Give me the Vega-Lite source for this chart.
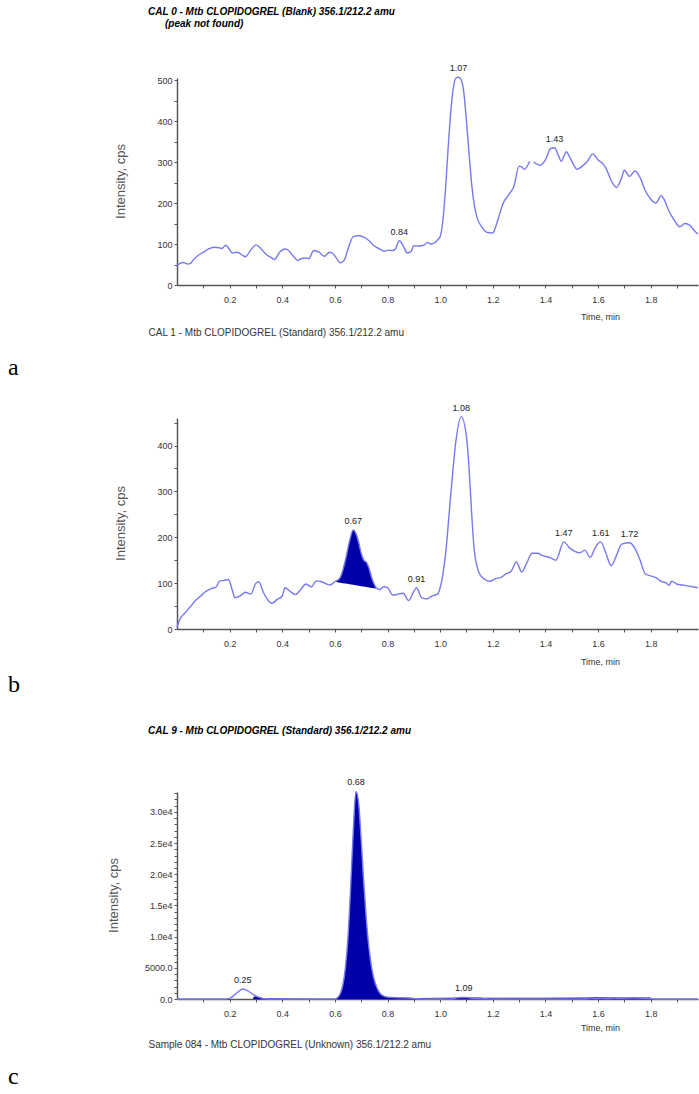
{
  "$schema": "https://vega.github.io/schema/vega-lite/v6.json",
  "background": "white",
  "padding": {"left": 8, "top": 7, "right": 0, "bottom": 0},
  "spacing": 23,
  "config": {
    "view": {"stroke": null},
    "font": "Liberation Sans",
    "axis": {"grid": false, "domainColor": "#555555", "domainWidth": 1.5, "tickColor": "#555555", "tickSize": 3, "labelFont": "Liberation Sans", "labelFontSize": 9, "labelColor": "#333333", "titleFont": "Liberation Sans", "titleFontSize": 9, "titleFontWeight": "normal", "titleColor": "#333333"},
    "title": {"font": "Liberation Sans", "fontSize": 10, "fontStyle": "italic", "fontWeight": "bold", "color": "#000000", "anchor": "start", "frame": "group", "subtitleFont": "Liberation Sans", "subtitleFontSize": 10, "subtitleFontStyle": "italic", "subtitleFontWeight": "bold", "subtitleColor": "#000000", "subtitlePadding": 2}
  },
  "datasets": {
    "a": [
      {"s":1,"t":0.00,"v":48},{"s":1,"t":0.01,"v":52},{"s":1,"t":0.02,"v":55},{"s":1,"t":0.03,"v":54},{"s":1,"t":0.04,"v":51},{"s":1,"t":0.05,"v":52},{"s":1,"t":0.06,"v":60},{"s":1,"t":0.08,"v":72},{"s":1,"t":0.10,"v":80},{"s":1,"t":0.12,"v":88},{"s":1,"t":0.14,"v":92},{"s":1,"t":0.16,"v":91},{"s":1,"t":0.17,"v":89},{"s":1,"t":0.185,"v":97},{"s":1,"t":0.20,"v":86},{"s":1,"t":0.21,"v":78},{"s":1,"t":0.23,"v":80},{"s":1,"t":0.25,"v":72},{"s":1,"t":0.26,"v":69},{"s":1,"t":0.28,"v":85},{"s":1,"t":0.30,"v":98},{"s":1,"t":0.32,"v":88},{"s":1,"t":0.34,"v":74},{"s":1,"t":0.36,"v":66},{"s":1,"t":0.37,"v":62},{"s":1,"t":0.39,"v":80},{"s":1,"t":0.41,"v":88},{"s":1,"t":0.42,"v":86},{"s":1,"t":0.44,"v":72},{"s":1,"t":0.46,"v":60},{"s":1,"t":0.47,"v":64},{"s":1,"t":0.49,"v":66},{"s":1,"t":0.50,"v":64},{"s":1,"t":0.52,"v":84},{"s":1,"t":0.54,"v":80},{"s":1,"t":0.56,"v":70},{"s":1,"t":0.58,"v":80},{"s":1,"t":0.59,"v":78},{"s":1,"t":0.61,"v":62},{"s":1,"t":0.62,"v":54},{"s":1,"t":0.635,"v":60},{"s":1,"t":0.65,"v":88},{"s":1,"t":0.67,"v":118},{"s":1,"t":0.69,"v":120},{"s":1,"t":0.71,"v":117},{"s":1,"t":0.73,"v":108},{"s":1,"t":0.75,"v":95},{"s":1,"t":0.77,"v":88},{"s":1,"t":0.79,"v":82},{"s":1,"t":0.80,"v":85},{"s":1,"t":0.82,"v":84},{"s":1,"t":0.83,"v":88},{"s":1,"t":0.845,"v":108},{"s":1,"t":0.86,"v":95},{"s":1,"t":0.875,"v":78},{"s":1,"t":0.89,"v":82},{"s":1,"t":0.90,"v":96},{"s":1,"t":0.92,"v":95},{"s":1,"t":0.94,"v":98},{"s":1,"t":0.95,"v":104},{"s":1,"t":0.965,"v":100},{"s":1,"t":0.98,"v":103},{"s":1,"t":0.99,"v":110},{"s":1,"t":1.00,"v":118},{"s":1,"t":1.01,"v":155},{"s":1,"t":1.02,"v":230},{"s":1,"t":1.03,"v":330},{"s":1,"t":1.04,"v":420},{"s":1,"t":1.05,"v":480},{"s":1,"t":1.06,"v":505},{"s":1,"t":1.07,"v":507},{"s":1,"t":1.08,"v":500},{"s":1,"t":1.09,"v":470},{"s":1,"t":1.10,"v":400},{"s":1,"t":1.11,"v":320},{"s":1,"t":1.12,"v":245},{"s":1,"t":1.13,"v":195},{"s":1,"t":1.14,"v":165},{"s":1,"t":1.16,"v":140},{"s":1,"t":1.18,"v":128},{"s":1,"t":1.20,"v":127},{"s":1,"t":1.21,"v":140},{"s":1,"t":1.22,"v":160},{"s":1,"t":1.24,"v":200},{"s":1,"t":1.26,"v":220},{"s":1,"t":1.28,"v":240},{"s":1,"t":1.30,"v":290},{"s":1,"t":1.31,"v":288},{"s":1,"t":1.32,"v":282},{"s":1,"t":1.34,"v":302},
      {"s":2,"t":1.355,"v":300},{"s":2,"t":1.38,"v":292},{"s":2,"t":1.40,"v":305},{"s":2,"t":1.42,"v":333},{"s":2,"t":1.435,"v":335},{"s":2,"t":1.45,"v":315},{"s":2,"t":1.46,"v":302},{"s":2,"t":1.48,"v":325},{"s":2,"t":1.49,"v":315},{"s":2,"t":1.51,"v":290},{"s":2,"t":1.52,"v":282},{"s":2,"t":1.54,"v":290},{"s":2,"t":1.56,"v":302},{"s":2,"t":1.58,"v":320},{"s":2,"t":1.60,"v":305},{"s":2,"t":1.62,"v":295},{"s":2,"t":1.63,"v":285},{"s":2,"t":1.65,"v":255},{"s":2,"t":1.67,"v":238},{"s":2,"t":1.69,"v":262},{"s":2,"t":1.70,"v":280},{"s":2,"t":1.72,"v":265},{"s":2,"t":1.74,"v":278},{"s":2,"t":1.76,"v":262},{"s":2,"t":1.78,"v":230},{"s":2,"t":1.80,"v":210},{"s":2,"t":1.82,"v":200},{"s":2,"t":1.84,"v":218},{"s":2,"t":1.85,"v":210},{"s":2,"t":1.87,"v":180},{"s":2,"t":1.89,"v":158},{"s":2,"t":1.91,"v":142},{"s":2,"t":1.93,"v":150},{"s":2,"t":1.95,"v":145},{"s":2,"t":1.97,"v":130},{"s":2,"t":1.98,"v":124}
    ],
    "aPeaks": [
      {"t":0.845,"v":108,"label":"0.84"},{"t":1.07,"v":507,"label":"1.07"},{"t":1.435,"v":335,"label":"1.43"}
    ],
    "b": [
      {"t":0.00,"v":4},{"t":0.01,"v":20},{"t":0.03,"v":35},{"t":0.05,"v":48},{"t":0.07,"v":62},{"t":0.09,"v":72},{"t":0.11,"v":82},{"t":0.13,"v":88},{"t":0.15,"v":92},{"t":0.16,"v":104},{"t":0.18,"v":106},{"t":0.195,"v":108},{"t":0.21,"v":85},{"t":0.22,"v":68},{"t":0.24,"v":72},{"t":0.26,"v":80},{"t":0.28,"v":76},{"t":0.30,"v":100},{"t":0.31,"v":103},{"t":0.33,"v":78},{"t":0.35,"v":60},{"t":0.36,"v":56},{"t":0.38,"v":64},{"t":0.40,"v":72},{"t":0.41,"v":90},{"t":0.43,"v":82},{"t":0.45,"v":75},{"t":0.47,"v":86},{"t":0.49,"v":98},{"t":0.51,"v":92},{"t":0.53,"v":105},{"t":0.55,"v":103},{"t":0.57,"v":98},{"t":0.58,"v":96},{"t":0.60,"v":103},{"t":0.62,"v":112},{"t":0.64,"v":150},{"t":0.655,"v":190},{"t":0.67,"v":216},{"t":0.68,"v":208},{"t":0.69,"v":190},{"t":0.70,"v":165},{"t":0.71,"v":150},{"t":0.72,"v":145},{"t":0.73,"v":132},{"t":0.74,"v":112},{"t":0.755,"v":92},{"t":0.77,"v":86},{"t":0.785,"v":92},{"t":0.80,"v":90},{"t":0.82,"v":74},{"t":0.84,"v":76},{"t":0.86,"v":78},{"t":0.88,"v":62},{"t":0.90,"v":82},{"t":0.91,"v":90},{"t":0.93,"v":68},{"t":0.95,"v":66},{"t":0.97,"v":72},{"t":0.99,"v":76},{"t":1.00,"v":90},{"t":1.02,"v":160},{"t":1.04,"v":290},{"t":1.06,"v":410},{"t":1.08,"v":463},{"t":1.10,"v":420},{"t":1.11,"v":350},{"t":1.12,"v":250},{"t":1.13,"v":170},{"t":1.15,"v":120},{"t":1.17,"v":108},{"t":1.19,"v":104},{"t":1.21,"v":110},{"t":1.23,"v":112},{"t":1.25,"v":120},{"t":1.27,"v":126},{"t":1.29,"v":146},{"t":1.31,"v":124},{"t":1.33,"v":145},{"t":1.35,"v":165},{"t":1.37,"v":165},{"t":1.39,"v":160},{"t":1.42,"v":155},{"t":1.44,"v":150},{"t":1.47,"v":190},{"t":1.49,"v":178},{"t":1.51,"v":170},{"t":1.53,"v":166},{"t":1.55,"v":172},{"t":1.57,"v":156},{"t":1.59,"v":178},{"t":1.61,"v":190},{"t":1.63,"v":165},{"t":1.65,"v":138},{"t":1.67,"v":160},{"t":1.69,"v":185},{"t":1.72,"v":188},{"t":1.74,"v":176},{"t":1.76,"v":150},{"t":1.78,"v":120},{"t":1.80,"v":116},{"t":1.82,"v":112},{"t":1.84,"v":104},{"t":1.86,"v":100},{"t":1.87,"v":95},{"t":1.88,"v":104},{"t":1.90,"v":98},{"t":1.92,"v":96},{"t":1.94,"v":94},{"t":1.96,"v":92},{"t":1.98,"v":90}
    ],
    "bFill": [
      {"t":0.60,"v":103,"base":103},{"t":0.62,"v":112,"base":101.1},{"t":0.64,"v":150,"base":99.1},{"t":0.655,"v":190,"base":97.7},{"t":0.67,"v":216,"base":96.2},{"t":0.68,"v":208,"base":95.2},{"t":0.69,"v":190,"base":94.3},{"t":0.70,"v":165,"base":93.3},{"t":0.71,"v":150,"base":92.4},{"t":0.72,"v":145,"base":91.4},{"t":0.73,"v":132,"base":90.4},{"t":0.74,"v":112,"base":89.5},{"t":0.755,"v":90,"base":88}
    ],
    "bPeaks": [
      {"t":0.67,"v":216,"label":"0.67"},{"t":0.91,"v":90,"label":"0.91"},{"t":1.08,"v":463,"label":"1.08"},{"t":1.47,"v":190,"label":"1.47"},{"t":1.61,"v":190,"label":"1.61"},{"t":1.72,"v":188,"label":"1.72"}
    ],
    "c": [
      {"t":0.00,"v":0},{"t":0.10,"v":0},{"t":0.18,"v":0},{"t":0.20,"v":100},{"t":0.22,"v":700},{"t":0.24,"v":1400},{"t":0.25,"v":1600},{"t":0.26,"v":1500},{"t":0.28,"v":1000},{"t":0.30,"v":450},{"t":0.32,"v":150},{"t":0.34,"v":30},{"t":0.36,"v":0},{"t":0.58,"v":0},{"t":0.60,"v":0},{"t":0.61,"v":200},{"t":0.62,"v":800},{"t":0.63,"v":2200},{"t":0.64,"v":5000},{"t":0.65,"v":10000},{"t":0.66,"v":18000},{"t":0.67,"v":27000},{"t":0.68,"v":33300},{"t":0.69,"v":31500},{"t":0.70,"v":25500},{"t":0.71,"v":18500},{"t":0.72,"v":12500},{"t":0.73,"v":8000},{"t":0.74,"v":5000},{"t":0.75,"v":3000},{"t":0.76,"v":1800},{"t":0.77,"v":1000},{"t":0.78,"v":600},{"t":0.80,"v":300},{"t":0.84,"v":200},{"t":0.88,"v":150},{"t":0.91,"v":50},{"t":0.93,"v":0},{"t":1.04,"v":0},{"t":1.06,"v":150},{"t":1.08,"v":250},{"t":1.10,"v":230},{"t":1.12,"v":120},{"t":1.14,"v":80},{"t":1.18,"v":30},{"t":1.20,"v":0},{"t":1.55,"v":0},{"t":1.57,"v":150},{"t":1.59,"v":80},{"t":1.61,"v":170},{"t":1.63,"v":90},{"t":1.66,"v":140},{"t":1.70,"v":120},{"t":1.74,"v":150},{"t":1.78,"v":100},{"t":1.80,"v":60},{"t":1.82,"v":0},{"t":1.98,"v":0}
    ],
    "cFill": [
      {"seg":"p1","t":0.29,"v":300},{"seg":"p1","t":0.30,"v":450},{"seg":"p1","t":0.32,"v":250},{"seg":"p1","t":0.33,"v":150},
      {"seg":"p2","t":0.60,"v":0},{"seg":"p2","t":0.61,"v":200},{"seg":"p2","t":0.62,"v":800},{"seg":"p2","t":0.63,"v":2200},{"seg":"p2","t":0.64,"v":5000},{"seg":"p2","t":0.65,"v":10000},{"seg":"p2","t":0.66,"v":18000},{"seg":"p2","t":0.67,"v":27000},{"seg":"p2","t":0.68,"v":33300},{"seg":"p2","t":0.69,"v":31500},{"seg":"p2","t":0.70,"v":25500},{"seg":"p2","t":0.71,"v":18500},{"seg":"p2","t":0.72,"v":12500},{"seg":"p2","t":0.73,"v":8000},{"seg":"p2","t":0.74,"v":5000},{"seg":"p2","t":0.75,"v":3000},{"seg":"p2","t":0.76,"v":1800},{"seg":"p2","t":0.77,"v":1000},{"seg":"p2","t":0.78,"v":600},{"seg":"p2","t":0.80,"v":300},{"seg":"p2","t":0.84,"v":250},{"seg":"p2","t":0.88,"v":200},{"seg":"p2","t":0.91,"v":150},
      {"seg":"p3","t":1.12,"v":250},{"seg":"p3","t":1.15,"v":250},{"seg":"p3","t":1.18,"v":200},
      {"seg":"p4","t":1.56,"v":250},{"seg":"p4","t":1.60,"v":280},{"seg":"p4","t":1.65,"v":250},{"seg":"p4","t":1.70,"v":250},{"seg":"p4","t":1.75,"v":260},{"seg":"p4","t":1.80,"v":230}
    ],
    "cPeaks": [
      {"t":0.25,"v":1600,"label":"0.25"},{"t":0.68,"v":33300,"label":"0.68"},{"t":1.09,"v":250,"label":"1.09"}
    ]
  },
  "vconcat": [
    {
      "title": {"text": "a", "orient": "bottom", "anchor": "start", "font": "Liberation Serif", "fontSize": 24, "fontStyle": "normal", "fontWeight": "normal", "offset": 19, "dx": -169},
      "vconcat": [
        {
          "title": {"text": "CAL 0 - Mtb CLOPIDOGREL (Blank) 356.1/212.2 amu", "subtitle": "\u200b\u2003\u2002\u2009(peak not found)", "dx": -29, "offset": 35},
          "width": 521,
          "height": 207,
          "encoding": {
            "x": {"field": "t", "type": "quantitative", "scale": {"domain": [0, 1.98], "nice": false, "zero": false},
                  "axis": {"title": "Time, min", "values": [0.1,0.2,0.3,0.4,0.5,0.6,0.7,0.8,0.9,1.0,1.1,1.2,1.3,1.4,1.5,1.6,1.7,1.8,1.9], "labelExpr": "round(datum.value*10) % 2 == 0 ? format(datum.value, '.1f') : ''", "labelPadding": 7, "titleX": 423, "titleY": 34, "titleAlign": "center", "titleBaseline": "alphabetic", "orient": "bottom"}},
            "y": {"field": "v", "type": "quantitative", "scale": {"domain": [0, 505], "nice": false},
                  "axis": {"title": "Intensity, cps", "values": [0,50,100,150,200,250,300,350,400,450,500], "labelExpr": "datum.value % 100 == 0 ? datum.label : ''", "labelPadding": 2, "titleX": -57, "titleY": 103, "titleAlign": "center", "titleBaseline": "middle", "titleFontSize": 13, "titleColor": "#555555"}}
          },
          "layer": [
            {"data": {"name": "a"}, "mark": {"type": "line", "color": "#7878f0", "strokeWidth": 1.4, "interpolate": "monotone"}, "encoding": {"detail": {"field": "s"}}},
            {"data": {"name": "aPeaks"}, "mark": {"type": "text", "fontSize": 9, "color": "#222222", "baseline": "bottom", "dy": -4},
             "encoding": {"text": {"field": "label"},
               "x": {"field": "t", "type": "quantitative", "axis": {"title": "CAL 1 - Mtb CLOPIDOGREL (Standard) 356.1/212.2 amu", "orient": "bottom", "labels": false, "ticks": false, "domain": false, "titleX": -29, "titleY": 50, "titleAlign": "left", "titleBaseline": "alphabetic", "titleFontSize": 10}}}}
          ],
          "resolve": {"axis": {"x": "independent"}}
        }
      ]
    },
    {
      "title": {"text": "b", "subtitle": "\u00a0", "subtitleFontSize": 4, "subtitlePadding": 2, "orient": "bottom", "anchor": "start", "font": "Liberation Serif", "fontSize": 24, "fontStyle": "normal", "fontWeight": "normal", "offset": 7, "dx": -169},
      "vconcat": [
        {
          "width": 521,
          "height": 211,
          "encoding": {
            "x": {"field": "t", "type": "quantitative", "scale": {"domain": [0, 1.98], "nice": false, "zero": false},
                  "axis": {"title": "Time, min", "values": [0.1,0.2,0.3,0.4,0.5,0.6,0.7,0.8,0.9,1.0,1.1,1.2,1.3,1.4,1.5,1.6,1.7,1.8,1.9], "labelExpr": "round(datum.value*10) % 2 == 0 ? format(datum.value, '.1f') : ''", "labelPadding": 7, "titleX": 423, "titleY": 35, "titleAlign": "center", "titleBaseline": "alphabetic"}},
            "y": {"field": "v", "type": "quantitative", "scale": {"domain": [0, 460], "nice": false},
                  "axis": {"title": "Intensity, cps", "values": [0,50,100,150,200,250,300,350,400,450], "labelExpr": "datum.value % 100 == 0 ? datum.label : ''", "labelPadding": 2, "titleX": -57, "titleY": 105, "titleAlign": "center", "titleBaseline": "middle", "titleFontSize": 13, "titleColor": "#555555"}}
          },
          "layer": [
            {"data": {"name": "bFill"}, "mark": {"type": "area", "color": "#0000a8", "interpolate": "monotone", "opacity": 1}, "encoding": {"y2": {"field": "base"}}},
            {"data": {"name": "b"}, "mark": {"type": "line", "color": "#7878f0", "strokeWidth": 1.4, "interpolate": "monotone"}},
            {"data": {"name": "bPeaks"}, "mark": {"type": "text", "fontSize": 9, "color": "#222222", "baseline": "bottom", "dy": -4}, "encoding": {"text": {"field": "label"}}}
          ]
        }
      ]
    },
    {
      "title": {"text": "c", "orient": "bottom", "anchor": "start", "font": "Liberation Serif", "fontSize": 24, "fontStyle": "normal", "fontWeight": "normal", "offset": 16, "dx": -169},
      "vconcat": [
        {
          "title": {"text": "CAL 9 - Mtb CLOPIDOGREL (Standard) 356.1/212.2 amu", "dx": -29, "offset": 42},
          "width": 521,
          "height": 207,
          "encoding": {
            "x": {"field": "t", "type": "quantitative", "scale": {"domain": [0, 1.98], "nice": false, "zero": false},
                  "axis": {"title": "Time, min", "values": [0.1,0.2,0.3,0.4,0.5,0.6,0.7,0.8,0.9,1.0,1.1,1.2,1.3,1.4,1.5,1.6,1.7,1.8,1.9], "labelExpr": "round(datum.value*10) % 2 == 0 ? format(datum.value, '.1f') : ''", "labelPadding": 7, "titleX": 423, "titleY": 31, "titleAlign": "center", "titleBaseline": "alphabetic", "orient": "bottom"}},
            "y": {"field": "v", "type": "quantitative", "scale": {"domain": [0, 33200], "nice": false},
                  "axis": {"title": "Intensity, cps", "values": [0,1000,2000,3000,4000,5000,6000,7000,8000,9000,10000,11000,12000,13000,14000,15000,16000,17000,18000,19000,20000,21000,22000,23000,24000,25000,26000,27000,28000,29000,30000,31000,32000,33000], "labelExpr": "datum.value == 0 ? '0.0' : datum.value == 5000 ? '5000.0' : datum.value % 5000 == 0 ? format(datum.value / 10000, '.1f') + 'e4' : ''", "labelPadding": 2, "titleX": -64, "titleY": 103, "titleAlign": "center", "titleBaseline": "middle", "titleFontSize": 13, "titleColor": "#555555"}}
          },
          "layer": [
            {"data": {"name": "cFill"}, "mark": {"type": "area", "color": "#0000a8", "interpolate": "monotone"}, "encoding": {"detail": {"field": "seg"}, "x": {"field": "t", "type": "quantitative", "axis": null}}},
            {"data": {"name": "c"}, "mark": {"type": "line", "color": "#7878f0", "strokeWidth": 1.4, "interpolate": "monotone"}},
            {"data": {"name": "cPeaks"}, "mark": {"type": "text", "fontSize": 9, "color": "#222222", "baseline": "bottom", "dy": -4},
             "encoding": {"text": {"field": "label"},
               "x": {"field": "t", "type": "quantitative", "axis": {"title": "Sample 084 - Mtb CLOPIDOGREL (Unknown) 356.1/212.2 amu", "orient": "bottom", "labels": false, "ticks": false, "domain": false, "titleX": -29, "titleY": 48, "titleAlign": "left", "titleBaseline": "alphabetic", "titleFontSize": 10}}}}
          ],
          "resolve": {"axis": {"x": "independent"}}
        }
      ]
    }
  ]
}
